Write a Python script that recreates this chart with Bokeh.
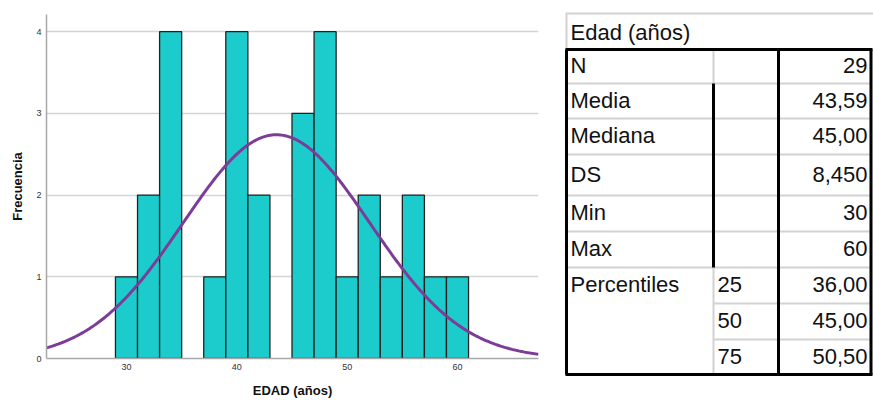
import numpy as np
from bokeh.plotting import figure
from bokeh.models import Range1d, FixedTicker
from bokeh.layouts import row
from bokeh.embed import file_html
from bokeh.resources import INLINE
from bokeh.core.properties import value

# ---------------- data ----------------
bin_centers = [30, 32, 34, 36, 38, 40, 42, 44, 46, 48, 50, 52, 54, 56, 58, 60]
counts = [1, 2, 4, 0, 1, 4, 2, 0, 3, 4, 1, 2, 1, 2, 1, 1]
bin_width = 2
x_ticks = [30, 40, 50, 60]
y_ticks = [0, 1, 2, 3, 4]

n_obs = 29
mean_age = 43.59
sd_age = 8.450

table_title = "Edad (años)"
stat_labels = ["N", "Media", "Mediana", "DS", "Min", "Max", "Percentiles", "", ""]
pct_labels = ["", "", "", "", "", "", "25", "50", "75"]
stat_values = ["29", "43,59", "45,00", "8,450", "30", "60", "36,00", "45,00", "50,50"]

FONT = "Liberation Sans"

# ---------------- histogram ----------------
x_lo, x_hi = 22.75, 67.34
p = figure(width=553, height=400, x_range=Range1d(x_lo, x_hi), y_range=Range1d(0, 4.21),
           output_backend="svg", toolbar_location=None,
           min_border_left=46, min_border_right=15, min_border_top=14, min_border_bottom=42)
p.frame_align = False
p.outline_line_color = None
p.background_fill_color = "white"
p.xgrid.visible = False
p.ygrid.ticker = FixedTicker(ticks=[t for t in y_ticks if t > 0])
p.ygrid.grid_line_color = "#d4d4d4"
p.ygrid.grid_line_width = 1.5

lefts = [c - bin_width / 2 for c, k in zip(bin_centers, counts) if k > 0]
rights = [c + bin_width / 2 for c, k in zip(bin_centers, counts) if k > 0]
tops = [k for k in counts if k > 0]
p.quad(left=lefts, right=rights, bottom=0, top=tops,
       fill_color="#1ccccc", line_color="#222222", line_width=1.3)

# fitted normal curve (from the table's N, mean and SD, scaled to bin width)
xs = np.linspace(x_lo, x_hi, 300)
ys = n_obs * bin_width / (sd_age * np.sqrt(2 * np.pi)) * np.exp(-0.5 * ((xs - mean_age) / sd_age) ** 2)
p.line(xs, ys, line_color="#7d3c98", line_width=3)

p.xaxis.ticker = FixedTicker(ticks=x_ticks)
p.yaxis.ticker = FixedTicker(ticks=y_ticks)
p.xaxis.axis_label = "EDAD (años)"
p.yaxis.axis_label = "Frecuencia"
for ax in (p.xaxis[0], p.yaxis[0]):
    ax.major_tick_line_color = None
    ax.minor_tick_line_color = None
    ax.major_tick_out = 0
    ax.major_tick_in = 0
    ax.axis_line_color = "#a8a8a8"
    ax.axis_line_width = 1.5
    ax.major_label_text_font = FONT
    ax.major_label_text_font_size = "9px"
    ax.major_label_text_color = "#333333"
    ax.major_label_standoff = 5
    ax.axis_label_text_font = FONT
    ax.axis_label_text_font_size = "13px"
    ax.axis_label_text_font_style = "bold"
    ax.axis_label_text_color = "#111111"
p.xaxis.axis_label_standoff = 10
p.yaxis.axis_label_standoff = 8

# ---------------- statistics table ----------------
t = figure(width=320, height=400, x_range=Range1d(553, 873), y_range=Range1d(400, 0),
           output_backend="svg", toolbar_location=None, min_border=0,
           x_axis_location=None, y_axis_location=None)
t.frame_align = False
t.outline_line_color = None
t.grid.visible = False

x_left, x_mid, x_val, x_right = 566, 713, 778, 870.5
bounds = [49, 83, 118, 154, 195, 231, 267, 303, 339, 374]
gray = "#d2d2d2"

# title row
t.segment(x0=[565], y0=[13], x1=[873], y1=[13], line_color=gray, line_width=2)
t.segment(x0=[x_left], y0=[13], x1=[x_left], y1=[49], line_color=gray, line_width=2)

# thin gray separators
full_rows = bounds[1:7]
t.segment(x0=[x_left] * len(full_rows), y0=full_rows, x1=[x_right] * len(full_rows), y1=full_rows,
          line_color=gray, line_width=2)
part_rows = bounds[7:9]
t.segment(x0=[x_mid] * len(part_rows), y0=part_rows, x1=[x_right] * len(part_rows), y1=part_rows,
          line_color=gray, line_width=2)
t.segment(x0=[x_mid, x_mid], y0=[bounds[0], bounds[6]], x1=[x_mid, x_mid], y1=[bounds[1], bounds[-1]],
          line_color=gray, line_width=2)

# thick black borders
t.segment(x0=[565, 565, x_left, x_val, x_right, x_mid],
          y0=[bounds[0], bounds[-1], bounds[0], bounds[0], bounds[0], bounds[1]],
          x1=[872, 872, x_left, x_val, x_right, x_mid],
          y1=[bounds[0], bounds[-1], bounds[-1], bounds[-1], bounds[-1], bounds[6]],
          line_color="#000000", line_width=3)

row_y = [(bounds[i] + bounds[i + 1]) / 2 - 1 for i in range(len(stat_labels))]
txt = dict(text_font=value(FONT), text_font_size="22px", text_color="#111111", text_baseline="middle")
t.text(x=[570], y=[31.5], text=[table_title], text_align="left", **txt)
t.text(x=[570] * len(stat_labels), y=row_y, text=stat_labels, text_align="left", **txt)
t.text(x=[717] * len(pct_labels), y=row_y, text=pct_labels, text_align="left", **txt)
t.text(x=[867] * len(stat_values), y=row_y, text=stat_values, text_align="right", **txt)

layout = row(p, t)
open("out.html", "w").write(file_html(layout, INLINE))
